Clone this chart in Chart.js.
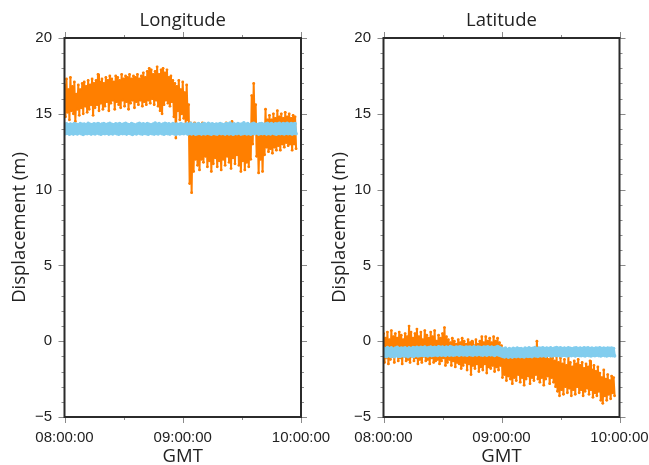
<!DOCTYPE html>
<html><head><meta charset="utf-8">
<script src="https://cdn.jsdelivr.net/npm/chart.js@4/dist/chart.umd.min.js"></script>
<style>
html,body{margin:0;padding:0;background:#fff;overflow:hidden;width:649px;height:465px;position:relative}
canvas{position:absolute;top:0}
#c1{left:0}
#c2{left:320px}
</style></head><body>
<canvas id="c1" width="345" height="465"></canvas>
<canvas id="c2" width="345" height="465"></canvas>
<script>
// ---- data (minutes after 08:00:00, one sample every SAMPLE_MIN) ----
const SAMPLE_MIN = 0.5;
const timeLabels = ['08:00:00', '09:00:00', '10:00:00'];
const timeTicks = [0, 60, 120];
const yTickValues = [-5, 0, 5, 10, 15, 20];
const panelTitles = ['Longitude', 'Latitude'];

const lonOrange = [
16.9,14.8,17.3,15.1,16.6,14.6,17.4,15.2,16.8,15.0,17.1,14.5,16.3,15.3,16.9,14.9,16.6,15.4,17.0,15.0,
17.1,15.5,16.8,15.1,17.2,15.3,16.9,15.6,17.3,14.9,17.0,15.4,17.2,15.6,17.6,15.2,17.1,15.7,17.3,15.3,
17.0,15.5,17.4,15.8,17.2,15.2,17.5,15.7,17.3,15.9,17.1,15.3,17.5,15.8,17.4,15.6,17.2,15.4,17.6,15.9,
17.3,15.5,17.5,15.8,17.4,15.3,17.6,15.7,17.3,15.9,17.5,15.4,17.4,15.8,17.6,15.6,17.3,15.9,17.5,15.5,
17.7,15.8,17.4,15.6,17.8,15.9,18.0,15.7,17.9,16.0,17.6,15.6,17.8,15.9,18.1,15.5,17.6,15.2,17.9,15.0,
18.0,15.6,17.7,15.9,17.9,15.7,17.4,15.5,17.5,15.8,17.2,14.8,17.0,13.4,16.8,15.2,17.2,14.6,16.6,15.0,
17.1,14.7,16.4,14.3,16.9,14.6,15.6,10.4,14.4,9.8,13.9,11.2,14.4,12.0,13.8,11.6,14.3,11.3,13.7,12.0,
14.4,11.8,13.9,12.2,14.2,11.5,13.6,11.9,14.1,11.2,13.8,11.7,14.3,12.1,13.5,11.5,14.0,11.9,13.8,11.3,
14.2,12.0,13.7,11.6,14.4,12.2,13.6,11.8,14.1,11.4,14.5,12.1,13.9,11.7,14.2,12.3,13.8,11.6,14.0,11.2,
13.7,11.9,14.1,11.3,13.9,11.8,14.3,11.5,14.0,12.0,16.2,13.0,17.0,14.2,15.6,12.2,14.0,11.1,13.8,12.0,
14.2,11.2,14.0,12.3,15.3,12.8,14.6,12.5,14.9,12.7,14.6,12.4,15.0,12.8,14.7,12.6,15.2,12.9,14.8,12.6,
15.0,13.0,14.7,12.8,15.1,13.1,14.8,12.9,15.0,13.0,14.7,12.6,14.9,13.0,14.8,12.7
];
const lonBlue = [
14.30,13.68,14.34,13.72,14.27,13.65,14.33,13.70,14.29,13.66,14.36,13.71,14.31,13.67,14.28,13.73,14.35,13.69,14.30,13.64,
14.33,13.70,14.27,13.68,14.37,13.72,14.31,13.66,14.29,13.70,14.34,13.67,14.30,13.73,14.36,13.69,14.28,13.65,14.32,13.71,
14.35,13.68,14.29,13.72,14.33,13.66,14.38,13.70,14.30,13.67,14.27,13.73,14.34,13.69,14.31,13.65,14.36,13.71,14.29,13.68,
14.32,13.70,14.37,13.66,14.30,13.72,14.28,13.68,14.35,13.64,14.31,13.70,14.26,13.67,14.33,13.73,14.38,13.69,14.30,13.66,
14.34,13.71,14.29,13.68,14.36,13.65,14.31,13.72,14.27,13.69,14.33,13.66,14.39,13.70,14.30,13.67,14.35,13.73,14.28,13.68,
14.32,13.65,14.37,13.71,14.30,13.68,14.34,13.66,14.28,13.72,14.36,13.69,14.31,13.64,14.33,13.70,14.29,13.67,14.35,13.71,
14.30,13.68,14.27,13.73,14.34,13.66,14.31,13.70,14.37,13.67,14.29,13.72,14.33,13.65,14.30,13.69,14.36,13.71,14.28,13.66,
14.32,13.70,14.35,13.67,14.29,13.72,14.38,13.68,14.31,13.65,14.34,13.71,14.27,13.69,14.33,13.66,14.30,13.73,14.36,13.68,
14.31,13.70,14.28,13.66,14.35,13.72,14.32,13.67,14.39,13.70,14.30,13.65,14.34,13.71,14.29,13.68,14.36,13.73,14.31,13.66,
14.33,13.69,14.40,13.72,14.30,13.67,14.35,13.70,14.28,13.65,14.33,13.71,14.37,13.68,14.31,13.73,14.29,13.66,14.34,13.70,
14.36,13.68,14.30,13.72,14.33,13.66,14.38,13.70,14.31,13.67,14.35,13.73,14.29,13.69,14.34,13.65,14.32,13.71,14.37,13.68,
14.30,13.70,14.35,13.67,14.32,13.72,14.38,13.68,14.31,13.71,14.36,13.66,14.33,13.70,14.35,13.68
];
const latOrange = [
0.5,-1.4,0.2,-1.1,0.6,-1.5,0.1,-1.2,0.7,-1.0,0.3,-1.4,0.5,-0.9,0.2,-1.3,0.6,-1.1,0.4,-1.5,
0.1,-1.0,0.5,-1.3,0.3,-1.2,1.0,-1.4,0.6,-1.0,0.2,-1.3,0.5,-1.1,0.8,-1.5,0.3,-1.2,0.6,-1.4,
0.1,-1.0,0.7,-1.3,0.4,-1.2,0.2,-1.5,0.6,-1.1,0.3,-1.4,0.7,-1.3,0.0,-1.2,0.4,-1.5,0.2,-1.3,
0.5,-1.1,0.9,-1.6,0.3,-1.4,0.1,-1.2,-0.1,-1.6,0.2,-1.3,0.0,-1.7,-0.2,-1.4,0.1,-1.5,-0.1,-1.8,
0.2,-1.6,0.0,-1.4,-0.2,-1.9,0.1,-1.5,-0.1,-2.2,0.0,-1.6,-0.3,-1.8,0.1,-1.5,-0.2,-2.0,0.0,-1.7,
0.3,-1.9,-0.1,-1.5,0.3,-2.1,0.0,-1.7,0.2,-1.8,-0.1,-1.6,0.3,-2.0,0.0,-1.7,0.2,-1.9,-0.1,-1.6,
-0.3,-2.4,-0.6,-2.2,-0.9,-2.6,-0.7,-2.3,-1.0,-2.5,-0.8,-2.8,-1.1,-2.4,-0.7,-2.6,-0.9,-2.2,-0.6,-2.7,
-1.0,-2.4,-0.8,-2.9,-1.1,-2.5,-0.7,-2.3,-0.9,-2.8,-0.6,-2.4,-1.0,-2.6,-0.5,-2.2,0.0,-2.5,-0.8,-2.7,
-1.1,-2.4,-0.8,-2.9,-1.0,-2.5,-0.7,-2.3,-1.2,-2.8,-0.9,-2.4,-1.1,-2.7,-1.3,-3.0,-1.0,-3.3,-1.4,-3.6,
-1.1,-3.2,-1.5,-3.5,-1.2,-3.0,-1.6,-3.4,-1.0,-3.1,-1.4,-3.6,-1.7,-3.2,-1.3,-3.5,-1.5,-3.0,-1.2,-3.4,
-1.6,-3.2,-1.4,-3.6,-1.8,-3.3,-1.5,-3.1,-1.7,-3.5,-1.3,-3.2,-1.9,-3.7,-1.6,-3.4,-2.0,-3.6,-1.7,-3.3,
-2.1,-3.9,-2.4,-4.1,-1.9,-3.6,-2.5,-3.9,-2.2,-3.5,-2.6,-3.8,-2.3,-3.4,-2.4,-3.6
];
const latBlue = [
-0.45,-0.98,-0.50,-1.02,-0.42,-0.95,-0.48,-1.00,-0.44,-0.97,-0.52,-1.03,-0.46,-0.96,-0.41,-0.99,-0.49,-1.01,-0.45,-0.94,
-0.47,-0.99,-0.43,-0.96,-0.50,-1.02,-0.44,-0.95,-0.48,-0.98,-0.42,-1.00,-0.46,-0.93,-0.40,-0.97,-0.45,-0.95,-0.41,-0.92,
-0.44,-0.96,-0.39,-0.93,-0.46,-0.97,-0.42,-0.91,-0.38,-0.95,-0.44,-0.92,-0.40,-0.90,-0.43,-0.94,-0.37,-0.89,-0.41,-0.93,
-0.39,-0.90,-0.43,-0.94,-0.38,-0.88,-0.42,-0.92,-0.36,-0.89,-0.40,-0.93,-0.44,-0.90,-0.38,-0.87,-0.41,-0.92,-0.37,-0.88,
-0.40,-0.91,-0.43,-0.89,-0.38,-0.93,-0.41,-0.87,-0.39,-0.90,-0.44,-0.92,-0.37,-0.88,-0.42,-0.91,-0.38,-0.86,-0.40,-0.90,
-0.43,-0.92,-0.39,-0.88,-0.41,-0.93,-0.37,-0.87,-0.42,-0.90,-0.38,-0.89,-0.44,-0.94,-0.40,-0.88,-0.36,-0.91,-0.41,-0.95,
-0.47,-1.00,-0.52,-1.04,-0.46,-0.98,-0.55,-1.06,-0.49,-1.01,-0.53,-1.05,-0.47,-0.99,-0.51,-1.03,-0.45,-0.97,-0.50,-1.02,
-0.48,-1.00,-0.53,-1.04,-0.46,-0.97,-0.50,-1.01,-0.44,-0.99,-0.49,-1.03,-0.47,-0.96,-0.42,-0.98,-0.48,-1.00,-0.45,-0.95,
-0.47,-0.97,-0.43,-0.94,-0.49,-0.99,-0.45,-0.93,-0.48,-0.96,-0.44,-0.98,-0.50,-0.95,-0.46,-0.92,-0.42,-0.96,-0.47,-0.94,
-0.44,-0.97,-0.49,-0.93,-0.45,-0.95,-0.48,-0.98,-0.43,-0.94,-0.47,-0.96,-0.50,-0.92,-0.46,-0.97,-0.44,-0.93,-0.48,-0.95,
-0.45,-0.96,-0.49,-0.94,-0.43,-0.97,-0.47,-0.93,-0.44,-0.95,-0.48,-0.98,-0.46,-0.94,-0.50,-0.96,-0.45,-0.92,-0.47,-0.95,
-0.44,-0.97,-0.48,-0.93,-0.46,-0.95,-0.49,-0.98,-0.45,-0.94,-0.47,-0.96,-0.46,-0.95,-0.48,-0.97
];

// ---- styling ----
const ORANGE = '#ff7f00';
const BLUE = '#82cdee';
const TEXT = '#222222';
const LABEL_FONT = "'Open Sans', sans-serif";
const TICK_FONT = "'Liberation Sans', Arial, sans-serif";
const Y_MINOR = 1, Y_MAJOR = 5, X_MINOR = 30, X_MAJOR = 60;

function toPoints(arr) { return arr.map((v, i) => ({ x: i * SAMPLE_MIN, y: v })); }

const framePlugin = {
  id: 'frame',
  afterDatasetsDraw(chart) {
    const { ctx, chartArea: { left, right, top, bottom }, scales: { x, y } } = chart;
    ctx.save();
    ctx.strokeStyle = '#8a8a8a';
    ctx.lineWidth = 1;
    ctx.beginPath();
    for (let v = y.min; v <= y.max; v += Y_MINOR) {
      const py = Math.round(y.getPixelForValue(v)) + 0.5;
      const len = (v % Y_MAJOR === 0) ? 6 : 3;
      ctx.moveTo(left - len, py); ctx.lineTo(left, py);
      ctx.moveTo(right, py); ctx.lineTo(right + len, py);
    }
    for (let m = x.min; m <= x.max; m += X_MINOR) {
      const px = Math.round(x.getPixelForValue(m)) + 0.5;
      const len = (m % X_MAJOR === 0) ? 6 : 3;
      ctx.moveTo(px, top - len); ctx.lineTo(px, top);
      ctx.moveTo(px, bottom); ctx.lineTo(px, bottom + len);
    }
    ctx.stroke();
    ctx.strokeStyle = '#2b2b2b';
    ctx.lineWidth = 2;
    ctx.strokeRect(left, top, right - left, bottom - top);
    ctx.restore();
  }
};

function makeChart(id, title, orange, blue, yWidth, padRight) {
  return new Chart(document.getElementById(id), {
    type: 'scatter',
    data: {
      datasets: [
        { data: toPoints(blue), showLine: true, borderColor: BLUE, backgroundColor: BLUE,
          borderWidth: 2.5, borderJoinStyle: 'round', borderCapStyle: 'round',
          pointRadius: 1.8, pointBorderWidth: 0 },
        { data: toPoints(orange), showLine: true, borderColor: ORANGE, backgroundColor: ORANGE,
          borderWidth: 2, borderJoinStyle: 'round', borderCapStyle: 'round',
          pointRadius: 1.4, pointBorderWidth: 0 }
      ]
    },
    options: {
      responsive: false, animation: false, events: [],
      layout: { padding: { left: 0, right: padRight, top: 0, bottom: 0 } },
      plugins: {
        legend: { display: false }, tooltip: { enabled: false },
        title: { display: true, fullSize: false, text: title, color: TEXT,
          font: { family: LABEL_FONT, size: 18.5, weight: 'normal', lineHeight: 1.2 },
          padding: { top: 10, bottom: 5.8 } }
      },
      scales: {
        x: {
          type: 'linear', min: 0, max: 120,
          afterBuildTicks: s => { s.ticks = timeTicks.map(v => ({ value: v })); },
          afterFit: s => { s.height = 48; },
          grid: { display: false, drawTicks: false }, border: { display: false },
          ticks: { autoSkip: false, maxRotation: 0, padding: 12, color: TEXT,
            font: { family: TICK_FONT, size: 15 },
            callback: (v, i) => timeLabels[i] },
          title: { display: true, text: 'GMT', color: TEXT,
            font: { family: LABEL_FONT, size: 18.5, lineHeight: 0.9 }, padding: { top: 0, bottom: 0 } }
        },
        y: {
          min: -5, max: 20,
          afterBuildTicks: s => { s.ticks = yTickValues.map(v => ({ value: v })); },
          afterFit: s => { s.width = yWidth; },
          grid: { display: false, drawTicks: false }, border: { display: false },
          ticks: { padding: 12.5, color: TEXT, font: { family: TICK_FONT, size: 15 },
            callback: v => String(v).replace('-', '\u2212') },
          title: { display: true, text: 'Displacement (m)', color: TEXT,
            font: { family: LABEL_FONT, size: 18.5, lineHeight: 1.2 }, padding: { top: 9 } }
        }
      }
    },
    plugins: [framePlugin]
  });
}

makeChart('c1', panelTitles[0], lonOrange, lonBlue, 64.5, 44);
makeChart('c2', panelTitles[1], latOrange, latBlue, 63.5, 45.5);
</script>
</body></html>
